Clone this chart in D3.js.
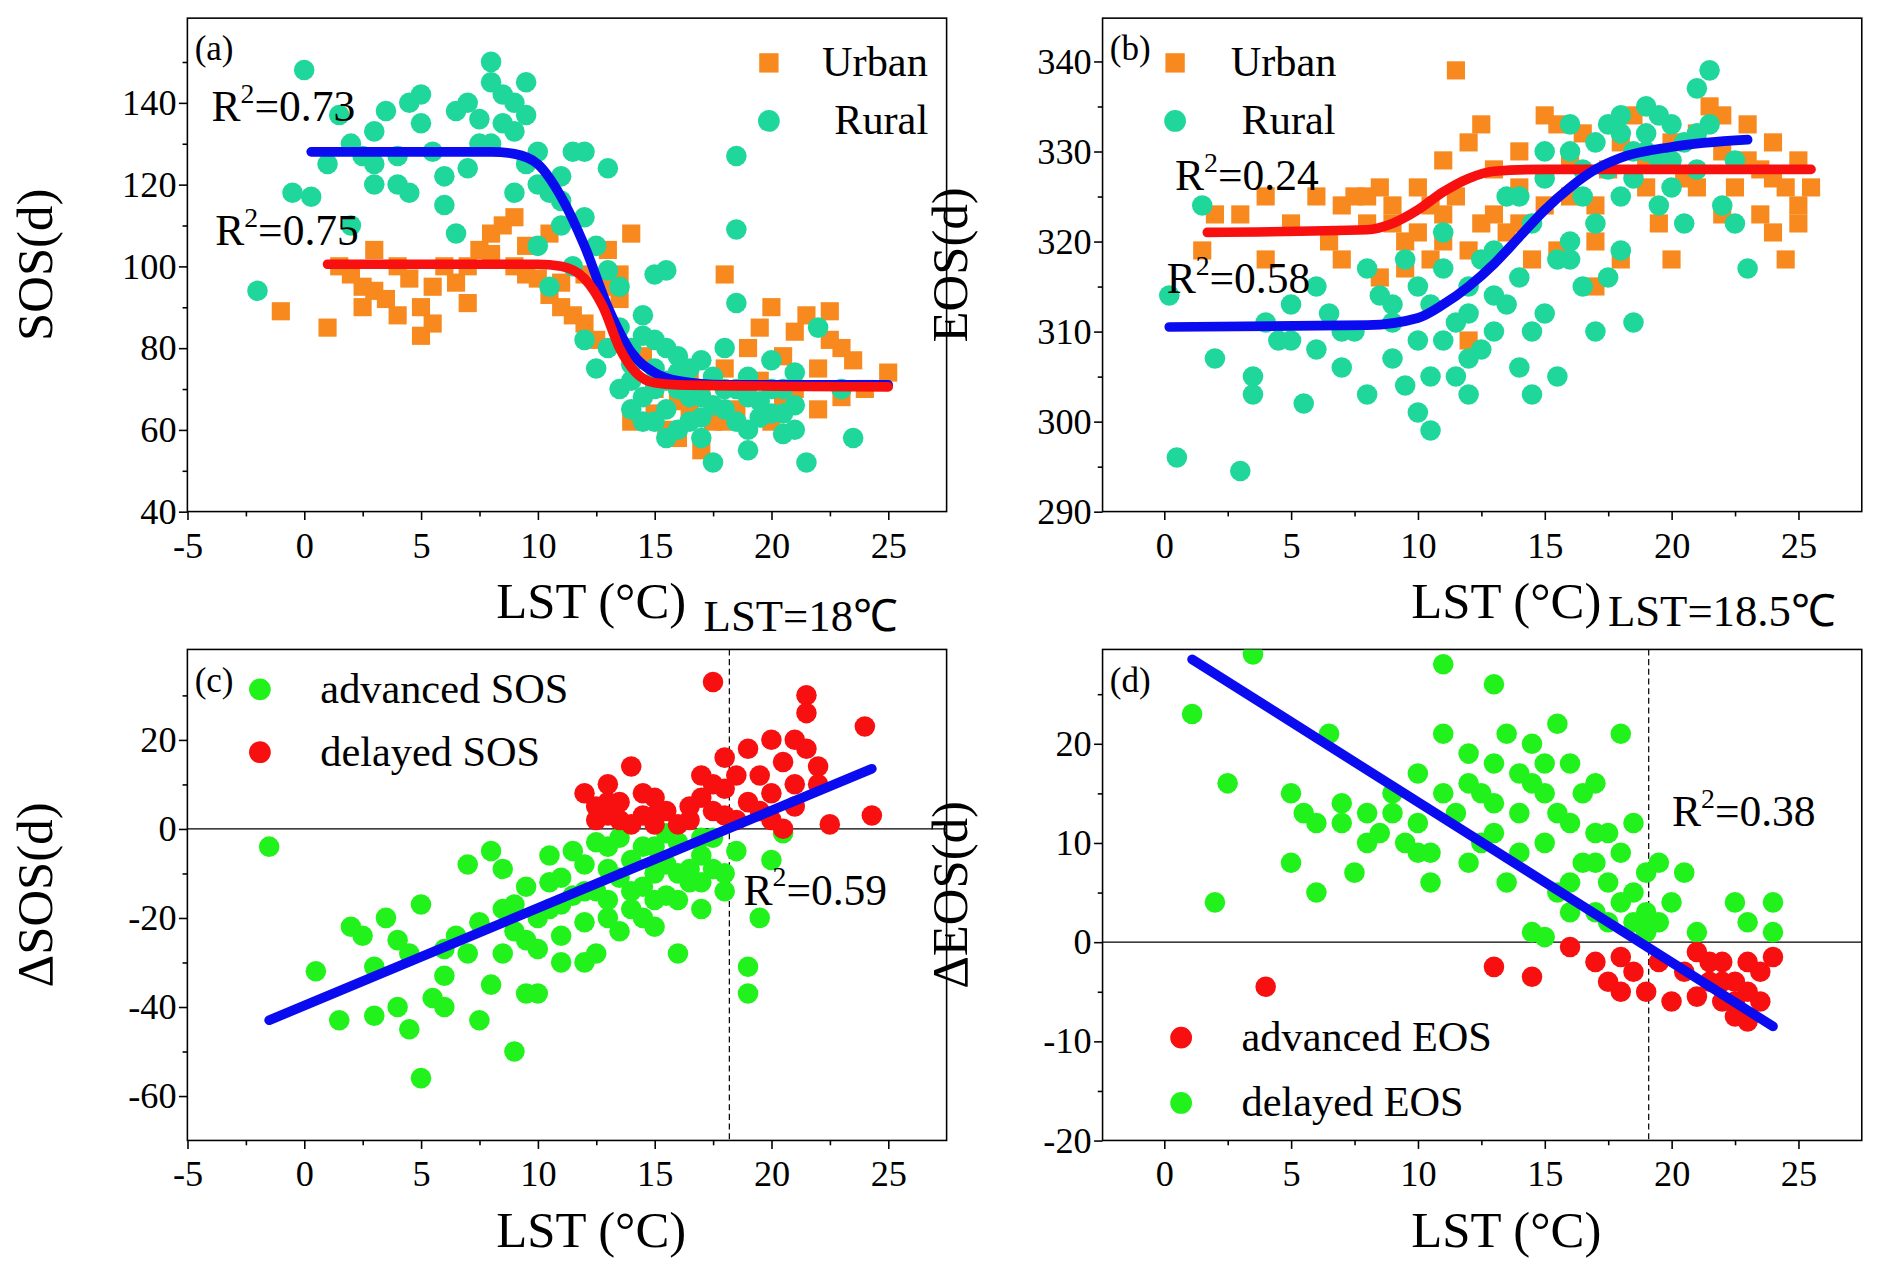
<!DOCTYPE html>
<html><head><meta charset="utf-8">
<script src="https://cdn.jsdelivr.net/npm/d3@7"></script>
<style>body{margin:0;background:#fff}svg{display:block}svg text{font-family:"Liberation Serif","Times New Roman",serif}</style>
</head><body><div id="chart"></div>
<script>
// scatter data, [LST, value]
const urbanA = [[-1,89],[1,85],[1.5,100],[2,98],[2.5,95],[3,94],[3.5,92],[4,88],[4.5,97],[5,83],[5,90],[5.5,86],[6,100],[6.5,96],[7,91],[7.5,104],[8,108],[8.5,110],[9,112],[9,100],[9.5,105],[10,97],[10.5,93],[11,90],[11.5,88],[12,98],[12.5,82],[13,104],[13.5,92],[14,108],[14.5,78],[15,70],[15.5,60],[16,58],[16.5,65],[17,55],[17.5,62],[18,98],[18,75],[18.5,65],[19,80],[19.5,72],[20,90],[20.5,78],[21,84],[21.5,88],[22,75],[22.5,89],[23,80],[23.5,77],[24,70],[25,74],[22,65],[20,62],[19,68],[17,70],[16,67],[14,62],[13,95],[12,86],[7,100],[4,100],[3,104],[8,103],[9.5,98],[10.5,108],[11,96],[2.5,90],[5.5,95],[16.5,72],[18,62],[19.5,85],[21,70],[22.5,82],[23,68],[20.5,66],[15,64],[13.5,98]];
const ruralA = [[-2,94],[0,148],[-0.5,118],[0.3,117],[1.5,137],[2,130],[2.5,127],[3,120],[3.5,138],[4,127],[4.5,118],[4.5,140],[5,142],[5,135],[5.5,128],[6,122],[6,115],[6.5,108],[7,124],[7.5,130],[7.5,136],[8,145],[8,150],[8.5,142],[9,140],[9,133],[9.5,137],[9.5,125],[10,128],[10.5,118],[10.5,95],[11,122],[11,110],[11.5,128],[12,128],[12,112],[12.5,105],[13,124],[13,99],[13.5,95],[13.5,85],[14,80],[14,72],[14.5,68],[14.5,88],[15,98],[15,82],[15,75],[15.5,72],[15.5,65],[15.5,99],[16,78],[16,70],[16.5,75],[16.5,62],[17,68],[17,58],[17.5,52],[17.5,73],[18,80],[18,65],[18.5,127],[18.5,109],[18.5,91],[18.5,70],[19,60],[19,73],[19.5,67],[20,77],[20,64],[20.5,59],[21,74],[21,66],[21.5,52],[22,85],[23,70],[23.5,58],[13,80],[12.5,75],[14,65],[16,60],[15,62],[17,63],[19,55],[20.5,70],[11.5,100],[10,105],[9,118],[8,130],[6.5,138],[3,133],[2,110],[1,125],[14,76],[14.5,83],[15,70],[15.5,80],[16,74],[16.5,68],[17,77],[17.5,66],[18,70],[18.5,62],[19,68],[19.5,63],[20,70],[20.5,64],[21,60],[13.5,70],[14.5,62],[15.5,58],[16.5,70],[12,82],[8.5,135],[9.5,145],[7,140],[10,120],[11,116],[4,120],[3,125]];
const urbanB = [[1.5,319],[2,323],[3,323],[4,325],[5,322],[6,325],[6.5,320],[7,318],[7.5,325],[8,322],[8.5,326],[9,324],[9.5,320],[9.5,317],[10,326],[10,321],[10.5,318],[11,329],[11,323],[11.5,339],[11.5,325],[12,331],[12,319],[12.5,333],[13,323],[13,328],[13.5,321],[14,330],[14,326],[14.5,318],[15,334],[15,324],[15.5,333],[15.5,319],[16,329],[16.5,332],[17,324],[17,320],[17.5,328],[18,331],[18,318],[18.5,334],[19,326],[19.5,322],[20,331],[20.5,327],[21,332],[21.5,335],[22,330],[22,323],[22.5,326],[23,333],[23.5,328],[23.5,323],[24,331],[24,321],[24.5,326],[25,329],[25,324],[25.5,326],[24.5,318],[20,318],[17,315],[12,309],[8.5,316],[4,318],[7,324],[8,325],[9,322],[10.5,324],[11,320],[12.5,322],[14,322],[16,325],[19,329],[21,326],[23,329],[24,327],[22,334],[25,322]];
const ruralB = [[0.2,314],[0.5,296],[1.5,324],[2,307],[3,294.5],[3.5,305],[3.5,303],[4,311],[4.5,309],[5,313],[5.5,302],[6,308],[6.5,312],[7,306],[7.5,310],[8,303],[8.5,314],[9,311],[9,307],[9.5,318],[9.5,304],[10,315],[10,301],[10.5,299],[10.5,313],[11,309],[11,321],[11.5,305],[12,315],[12,312],[12.5,318],[12.5,308],[13,310],[13,319],[13.5,325],[13.5,313],[14,306],[14,316],[14.5,322],[14.5,310],[15,327],[15,312],[15.5,318],[15.5,305],[16,330],[16,320],[16.5,325],[16.5,315],[17,322],[17,310],[17.5,328],[17.5,316],[18,332],[18,319],[18.5,327],[18.5,311],[19,330],[19,335],[19.5,324],[19.5,329],[20,333],[20,326],[20.5,331],[21,337],[21,328],[21.5,339],[21.5,333],[22,324],[22.5,329],[23,317],[22.5,322],[20.5,322],[18,325],[16,318],[14.5,303],[12,303],[11,317],[8,317],[6,315],[16,333],[17,331],[18,334],[19,332],[17.5,333],[18.5,330],[20,329],[16.5,328],[15,330],[14,325],[13,314],[11.5,311],[10,309],[9,313],[7,310],[5,309],[12,307],[10.5,305],[19.5,334],[21,332]];
const advSOS = [[-1.5,-4],[0.5,-32],[1.5,-43],[2,-22],[2.5,-24],[3,-42],[3,-31],[3.5,-20],[4,-40],[4,-25],[4.5,-28],[4.5,-45],[5,-56],[5,-17],[5.5,-38],[6,-33],[6,-40],[6.5,-24],[7,-8],[7,-28],[7.5,-43],[7.5,-21],[8,-35],[8,-5],[8.5,-9],[8.5,-18],[9,-50],[9,-23],[9.5,-37],[9.5,-13],[10,-37],[10,-27],[10.5,-6],[10.5,-18],[11,-11],[11,-24],[11.5,-15],[12,-21],[12,-8],[12.5,-3],[12.5,-28],[13,-16],[13,-9],[13.5,-23],[13.5,-2],[14,-18],[14,-7],[14.5,-13],[15,-4],[15,-22],[15.5,-15],[15.5,-8],[16,-28],[16,-3],[16.5,-12],[17,-18],[17,-6],[17.5,-2],[18,-10],[18,-14],[18.5,-5],[19,-37],[19,-31],[19.5,-20],[20,-7],[20.5,-1],[12,-30],[11,-17],[14,-14],[16.5,-9],[9,-17],[10,-20],[13,-20],[15,-10],[17,-12],[6,-27],[10.5,-12],[11.5,-5],[12.5,-14],[13,-4],[14.5,-4],[15.5,-1],[16,-16],[17.5,-9],[11,-30],[12,-14],[13.5,-11],[14.5,-20],[16,-10],[9.5,-25],[8.5,-28],[15,-16],[17,-2]];
const delSOS = [[12,8],[12.5,5],[13,3],[13,10],[13.5,6],[14,1],[14,14],[14.5,8],[15,3],[15,7],[15.5,4],[16,1],[16.5,2],[17,7],[17,12],[17.5,33],[17.5,4],[18,16],[18,9],[18.5,2],[19,18],[19,6],[19.5,12],[20,20],[20,2],[20.5,15],[21,10],[21,5],[21.5,30],[21.5,26],[21.5,18],[22,14],[22.5,1],[24,23],[24.3,3],[20.5,0],[16.5,5],[13.5,2],[18.5,12],[21,20],[12.5,2],[14.5,3],[13,6],[15,1],[17.5,10],[20,8],[22,10],[19.5,4],[18,3]];
const delEOS = [[1.1,23],[2,4],[2.5,16],[3.5,29],[5,15],[5,8],[5.5,13],[6,12],[6,5],[6.5,21],[7,14],[7.5,7],[8,13],[8.5,11],[9,15],[9.5,10],[10,17],[10.5,9],[10.5,6],[11,28],[11,21],[11.5,13],[12,19],[12,8],[12.5,15],[13,26],[13,11],[13.5,21],[13.5,6],[14,17],[14,13],[14.5,20],[14.5,1],[15,15],[15,10],[15.5,22],[15.5,5],[16,18],[16,12],[16.5,8],[17,16],[17,3],[17.5,11],[17.5,6],[18,21],[18,4],[18.5,12],[18.5,2],[19,7],[19,1],[19.5,8],[20,4],[20.5,7],[21,1],[22.5,4],[23,2],[24,4],[24,1],[15,0.5],[16,3],[12,16],[10,12],[8,10],[17,8],[15,18],[13,14],[11,15],[12.5,10],[14,9],[15.5,13],[16.5,15],[17,11],[18,9],[18.5,5],[19,3],[16,6],[14.5,16],[13,18],[10,9],[9,13],[7,12],[17.5,2],[19.5,2]];
const advEOS = [[4,-4.5],[13,-2.5],[14.5,-3.5],[16,-0.5],[17,-2],[17.5,-4],[18,-1.5],[18.5,-3],[19,-5],[19.5,-2],[20,-6],[20.5,-3],[21,-1],[21.5,-4],[22,-6],[22,-2],[22.5,-7.5],[23,-5],[23,-8],[23.5,-3],[24,-1.5],[22.5,-4],[21,-5.5],[18,-5],[23.5,-6],[22,-4],[21.5,-2],[23,-2],[22.5,-6]];
// fitted curves
const fitRuralA = [[0.3,128],[8,128],[9,127.5],[10,125],[11,117],[12,105],[13,90],[14,79],[15,74],[16,72],[18,71],[25,71]];
const fitUrbanA = [[1,100.5],[10,100.5],[11,100],[12,97],[12.8,90],[13.5,80],[14.2,74],[15,71.5],[16,71],[25,70.5]];
const fitUrbanB = [[1.7,321],[8,321.3],[9,322],[10,323.5],[11,325.5],[12,327],[13,327.8],[15,328],[25.5,328]];
const fitRuralB = [[0.2,310.5],[8,310.7],[10,311.5],[11,313],[12,315],[13,317.5],[14,320.5],[15,323.5],[16,326],[17,328],[18,329.3],[20,330.5],[23,331.3]];
const fitC = [[-1.5,-43],[24.3,13.5]];
const fitD = [[1.1,28.5],[24,-8.5]];
const ticksLeft = [-5,0,5,10,15,20,25];
const ticksRight = [0,5,10,15,20,25];

const W = 1565, H = 1065;
const svg = d3.select('#chart').append('svg')
  .attr('width', 1892).attr('height', 1288)
  .attr('viewBox', `0 0 ${W} ${H}`).attr('preserveAspectRatio', 'none');

const C = {orange:'#f7891f', teal:'#1fd79b', green:'#22f21c', red:'#f80f0f', blue:'#0b0bf0'};
const FONT = '"Liberation Serif","Times New Roman",serif';

function panel(o) {
  const g = svg.append('g');
  const x = d3.scaleLinear().domain(o.xd).range([o.x0, o.x1]);
  const y = d3.scaleLinear().domain(o.yd).range([o.y1, o.y0]);
  g.append('rect').attr('x', o.x0).attr('y', o.y0).attr('width', o.x1 - o.x0).attr('height', o.y1 - o.y0)
    .attr('fill', 'none').attr('stroke', '#000').attr('stroke-width', 1.3);
  const xa = g.append('g').attr('transform', `translate(0,${o.y1})`)
    .call(d3.axisBottom(x).tickValues(o.xt).tickSize(7).tickFormat(d => String(d)));
  g.append('g').attr('transform', `translate(0,${o.y1})`)
    .call(d3.axisBottom(x).tickValues(o.xt.map(v => v + 2.5).filter(v => v < o.xd[1])).tickSize(4).tickFormat(''));
  const ya = g.append('g').attr('transform', `translate(${o.x0},0)`)
    .call(d3.axisLeft(y).tickValues(o.yt).tickSize(7).tickFormat(d => String(d)));
  g.append('g').attr('transform', `translate(${o.x0},0)`)
    .call(d3.axisLeft(y).tickValues(o.yt.map(v => v + o.ys / 2).filter(v => v < o.yd[1])).tickSize(4).tickFormat(''));
  g.selectAll('.domain').remove();
  g.selectAll('.tick line').attr('stroke', '#000').attr('stroke-width', 1.3);
  xa.selectAll('text').style('font-family', FONT).attr('font-size', 30).attr('dy', '1em').attr('y', 8);
  ya.selectAll('text').style('font-family', FONT).attr('font-size', 30).attr('x', -9);

  const clip = 'clip' + o.id;
  g.append('clipPath').attr('id', clip).append('rect')
    .attr('x', o.x0).attr('y', o.y0).attr('width', o.x1 - o.x0).attr('height', o.y1 - o.y0);
  const p = g.append('g').attr('clip-path', `url(#${clip})`);
  if (o.zero) {
    p.append('line').attr('x1', o.x0).attr('x2', o.x1).attr('y1', y(0)).attr('y2', y(0)).attr('stroke', '#000').attr('stroke-width', 1);
    p.append('line').attr('x1', x(o.vline)).attr('x2', x(o.vline)).attr('y1', o.y0).attr('y2', o.y1)
      .attr('stroke', '#000').attr('stroke-width', 1).attr('stroke-dasharray', '5,3');
  }
  o.series.forEach(s => {
    if (s.square) {
      p.selectAll(null).data(s.data).join('rect')
        .attr('x', d => x(d[0]) - 7.5).attr('y', d => y(d[1]) - 7.5).attr('width', 15).attr('height', 15).attr('fill', s.color);
    } else {
      p.selectAll(null).data(s.data).join('circle')
        .attr('cx', d => x(d[0])).attr('cy', d => y(d[1])).attr('r', 8.5).attr('fill', s.color);
    }
  });
  const line = d3.line().x(d => x(d[0])).y(d => y(d[1])).curve(d3.curveMonotoneX);
  o.fits.forEach(f => p.append('path').attr('d', line(f.data)).attr('fill', 'none')
    .attr('stroke', f.color).attr('stroke-width', 8).attr('stroke-linecap', 'round'));

  o.legend.forEach(l => {
    if (l.square) g.append('rect').attr('x', l.mx - 8).attr('y', l.my - 8).attr('width', 16).attr('height', 16).attr('fill', l.color);
    else g.append('circle').attr('cx', l.mx).attr('cy', l.my).attr('r', 9).attr('fill', l.color);
    g.append('text').attr('x', l.tx).attr('y', l.my + 11).attr('font-size', 35).text(l.text);
  });
  g.append('text').attr('x', o.x0 + 6).attr('y', o.y0 + 35).attr('font-size', 29).text(o.tag);
  o.r2.forEach(r => {
    const t = g.append('text').attr('x', r.x).attr('y', r.y).attr('font-size', 36);
    t.append('tspan').text('R');
    t.append('tspan').attr('font-size', 23).attr('dy', -15).text('2');
    t.append('tspan').attr('dy', 15).text('=' + r.v);
  });
  g.append('text').attr('x', (o.x0 + o.x1) / 2 + 20).attr('y', o.y1 + 88).attr('text-anchor', 'middle').attr('font-size', 42).text('LST (°C)');
  g.append('text').attr('transform', `translate(${o.x0 - 112},${(o.y0 + o.y1) / 2}) rotate(-90)`)
    .attr('text-anchor', 'middle').attr('font-size', 42).text(o.ylab);
}

panel({id:'a', x0:155, x1:783, y0:15, y1:423, xd:[-5,27.5], yd:[40,160.7], xt:ticksLeft, yt:[40,60,80,100,120,140], ys:20,
  series:[{data:urbanA, color:C.orange, square:true},{data:ruralA, color:C.teal}],
  fits:[{data:fitRuralA, color:C.blue},{data:fitUrbanA, color:C.red}],
  legend:[{mx:636,my:52,tx:680,text:'Urban',color:C.orange,square:true},{mx:636,my:100,tx:690,text:'Rural',color:C.teal}],
  tag:'(a)', r2:[{x:175,y:100,v:'0.73'},{x:178,y:203,v:'0.75'}], ylab:'SOS(d)'});
panel({id:'b', x0:912, x1:1540, y0:15, y1:423, xd:[-2.43,27.5], yd:[290,344.8], xt:ticksRight, yt:[290,300,310,320,330,340], ys:10,
  series:[{data:urbanB, color:C.orange, square:true},{data:ruralB, color:C.teal}],
  fits:[{data:fitUrbanB, color:C.red},{data:fitRuralB, color:C.blue}],
  legend:[{mx:972,my:52,tx:1018,text:'Urban',color:C.orange,square:true},{mx:972,my:100,tx:1027,text:'Rural',color:C.teal}],
  tag:'(b)', r2:[{x:972,y:157,v:'0.24'},{x:965,y:242,v:'0.58'}], ylab:'EOS(d)'});
panel({id:'c', x0:155, x1:783, y0:537, y1:943, xd:[-5,27.5], yd:[-70,40.3], xt:ticksLeft, yt:[-60,-40,-20,0,20], ys:20, zero:true, vline:18.2,
  series:[{data:advSOS, color:C.green},{data:delSOS, color:C.red}],
  fits:[{data:fitC, color:C.blue}],
  legend:[{mx:215,my:570,tx:265,text:'advanced SOS',color:C.green},{mx:215,my:622,tx:265,text:'delayed SOS',color:C.red}],
  tag:'(c)', r2:[{x:615,y:748,v:'0.59'}], ylab:'ΔSOS(d)'});
panel({id:'d', x0:912, x1:1540, y0:537, y1:943, xd:[-2.43,27.5], yd:[-20,29.5], xt:ticksRight, yt:[-20,-10,0,10,20], ys:10, zero:true, vline:19.1,
  series:[{data:delEOS, color:C.green},{data:advEOS, color:C.red}],
  fits:[{data:fitD, color:C.blue}],
  legend:[{mx:977,my:858,tx:1027,text:'advanced EOS',color:C.red},{mx:977,my:912,tx:1027,text:'delayed EOS',color:C.green}],
  tag:'(d)', r2:[{x:1383,y:683,v:'0.38'}], ylab:'ΔEOS(d)'});

svg.append('text').attr('x', 582).attr('y', 522).attr('font-size', 37).text('LST=18℃');
svg.append('text').attr('x', 1330).attr('y', 518).attr('font-size', 37).text('LST=18.5℃');
</script></body></html>
